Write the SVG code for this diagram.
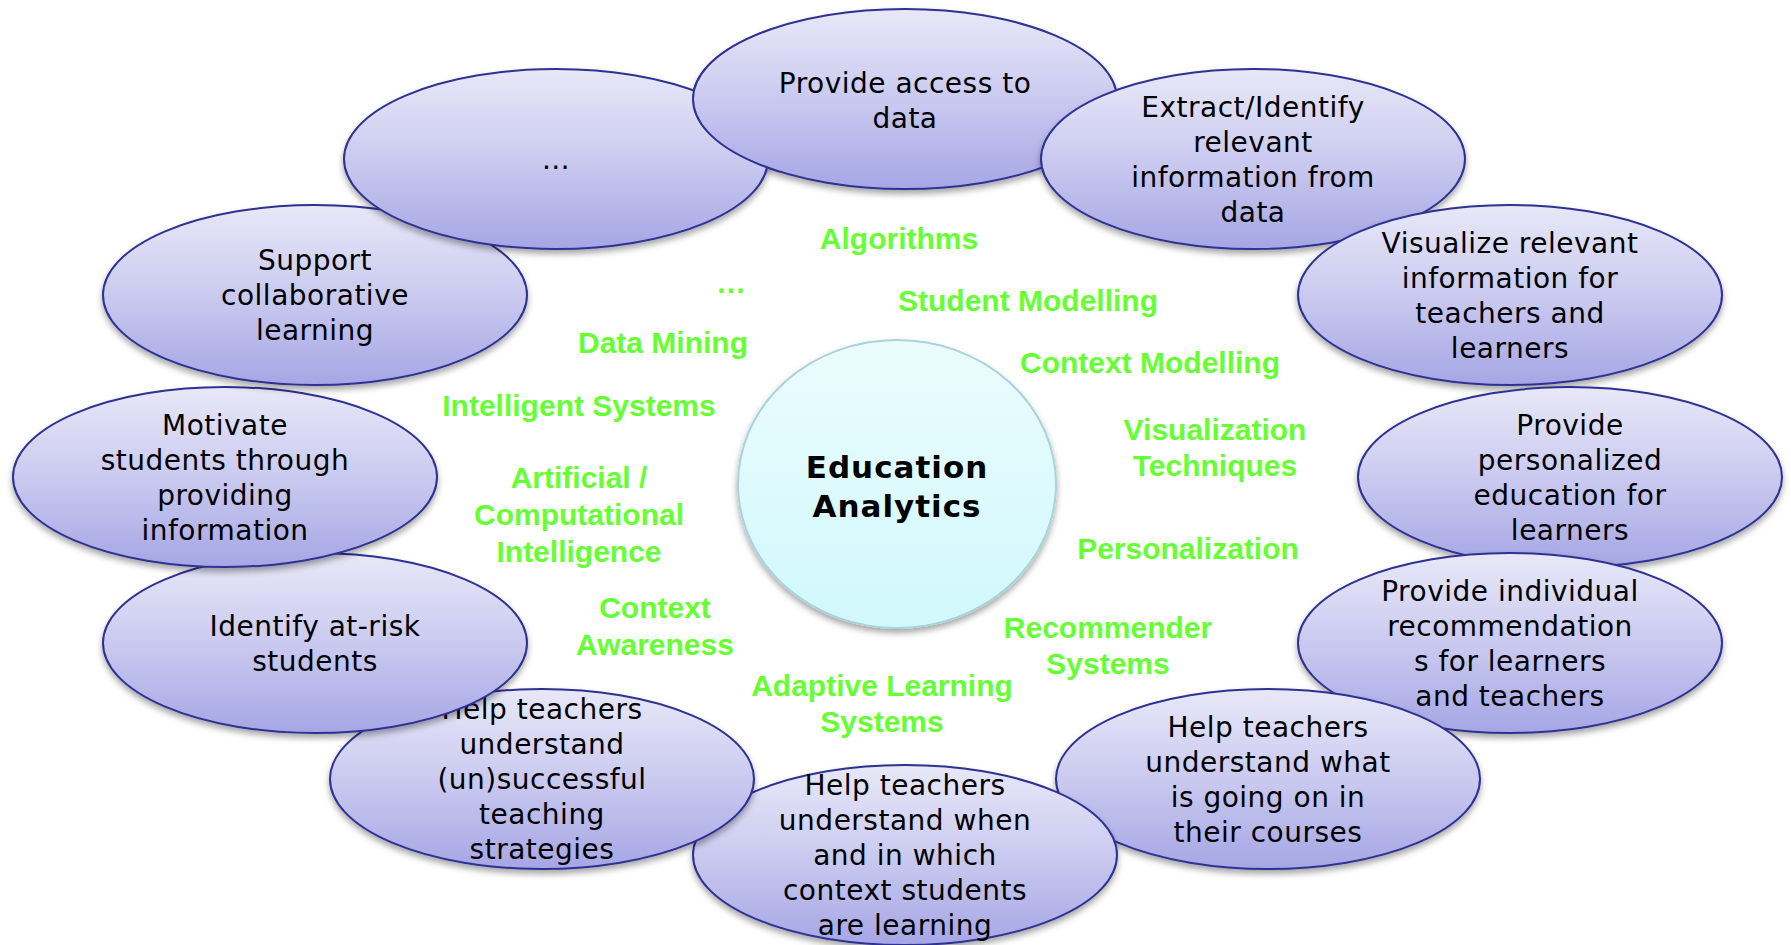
<svg xmlns="http://www.w3.org/2000/svg" xmlns:xlink="http://www.w3.org/1999/xlink" width="1791" height="945" viewBox="0 0 1791 945">
<style>
.el { fill:url(#eg); stroke:#2e3192; stroke-width:2; filter:url(#sh); }
.t { font-family:"DejaVu Sans", Verdana, sans-serif; font-size:28px; fill:#000; text-anchor:middle; letter-spacing:0.5px; }
.g { font-family:"Liberation Sans", Arial, sans-serif; font-weight:bold; font-size:30px; fill:#66ff33; text-anchor:middle; }
.c { font-family:"DejaVu Sans", Verdana, sans-serif; font-weight:bold; font-size:31px; fill:#000; text-anchor:middle; letter-spacing:1px; }
</style>
<defs>
<linearGradient id="eg" x1="0" y1="0" x2="0" y2="1">
<stop offset="0" stop-color="#e8e8f8"/>
<stop offset="0.5" stop-color="#cacaf0"/>
<stop offset="1" stop-color="#a6a6e5"/>
</linearGradient>
<linearGradient id="cg" x1="0" y1="0" x2="0" y2="1">
<stop offset="0" stop-color="#ecfcfd"/>
<stop offset="1" stop-color="#d0f8fc"/>
</linearGradient>
<filter id="sh" x="-10%" y="-10%" width="120%" height="130%">
<feDropShadow dx="0" dy="4" stdDeviation="3" flood-color="#000" flood-opacity="0.35"/>
</filter>
<clipPath id="cp"><rect x="0" y="0" width="771" height="100"/><rect x="0" y="100" width="780" height="200"/></clipPath>
</defs>
<rect width="1791" height="945" fill="#fff"/>

<g id="center">
<ellipse cx="897" cy="484" rx="159" ry="144" fill="url(#cg)" stroke="#a9d3da" stroke-width="2" filter="url(#sh)"/>
<text class="c"><tspan x="897" y="478">Education</tspan><tspan x="897" y="517">Analytics</tspan></text>
</g>

<g id="n1">
<ellipse class="el" cx="905" cy="99" rx="212" ry="90"/>
<text class="t"><tspan x="905" y="93">Provide access to</tspan><tspan x="905" y="128">data</tspan></text>
</g>
<g id="n2">
<ellipse class="el" cx="1253" cy="159" rx="212" ry="90"/>
<text class="t"><tspan x="1253" y="117">Extract/Identify</tspan><tspan x="1253" y="152">relevant</tspan><tspan x="1253" y="187">information from</tspan><tspan x="1253" y="222">data</tspan></text>
</g>
<g id="n3">
<ellipse class="el" cx="1510" cy="295" rx="212" ry="90"/>
<text class="t"><tspan x="1510" y="253">Visualize relevant</tspan><tspan x="1510" y="288">information for</tspan><tspan x="1510" y="323">teachers and</tspan><tspan x="1510" y="358">learners</tspan></text>
</g>
<g id="n4">
<ellipse class="el" cx="1570" cy="477" rx="212" ry="90"/>
<text class="t"><tspan x="1570" y="435">Provide</tspan><tspan x="1570" y="470">personalized</tspan><tspan x="1570" y="505">education for</tspan><tspan x="1570" y="540">learners</tspan></text>
</g>
<g id="n5">
<ellipse class="el" cx="1510" cy="643" rx="212" ry="90"/>
<text class="t"><tspan x="1510" y="601">Provide individual</tspan><tspan x="1510" y="636">recommendation</tspan><tspan x="1510" y="671">s for learners</tspan><tspan x="1510" y="706">and teachers</tspan></text>
</g>
<g id="n6">
<ellipse class="el" cx="1268" cy="779" rx="212" ry="90"/>
<text class="t"><tspan x="1268" y="737">Help teachers</tspan><tspan x="1268" y="772">understand what</tspan><tspan x="1268" y="807">is going on in</tspan><tspan x="1268" y="842">their courses</tspan></text>
</g>
<g id="n7">
<ellipse class="el" cx="905" cy="855" rx="212" ry="90"/>
<text class="t"><tspan x="905" y="795">Help teachers</tspan><tspan x="905" y="830">understand when</tspan><tspan x="905" y="865">and in which</tspan><tspan x="905" y="900">context students</tspan><tspan x="905" y="935">are learning</tspan></text>
</g>
<g id="n8">
<ellipse class="el" cx="542" cy="779" rx="212" ry="90"/>
<text class="t"><tspan x="542" y="719">Help teachers</tspan><tspan x="542" y="754">understand</tspan><tspan x="542" y="789">(un)successful</tspan><tspan x="542" y="824">teaching</tspan><tspan x="542" y="859">strategies</tspan></text>
</g>
<g id="n9">
<ellipse class="el" cx="315" cy="643" rx="212" ry="90"/>
<text class="t"><tspan x="315" y="636">Identify at-risk</tspan><tspan x="315" y="671">students</tspan></text>
</g>
<g id="n10">
<ellipse class="el" cx="225" cy="477" rx="212" ry="90"/>
<text class="t"><tspan x="225" y="435">Motivate</tspan><tspan x="225" y="470">students through</tspan><tspan x="225" y="505">providing</tspan><tspan x="225" y="540">information</tspan></text>
</g>
<g id="n11">
<ellipse class="el" cx="315" cy="295" rx="212" ry="90"/>
<text class="t"><tspan x="315" y="270">Support</tspan><tspan x="315" y="305">collaborative</tspan><tspan x="315" y="340">learning</tspan></text>
</g>
<g id="n12">
<ellipse class="el" cx="556" cy="159" rx="212" ry="90"/>
<text class="t" x="556" y="169">…</text>
</g>
<g id="n1-overlap">
<ellipse class="el" cx="905" cy="99" rx="212" ry="90" clip-path="url(#cp)" style="filter:none"/>
</g>

<g id="connectors"></g>

<g id="labels">
<text class="g" x="899" y="249">Algorithms</text>
<text class="g" x="731" y="293">…</text>
<text class="g" x="1028" y="311">Student Modelling</text>
<text class="g" x="663" y="353">Data Mining</text>
<text class="g" x="1150" y="373">Context Modelling</text>
<text class="g" x="579" y="416">Intelligent Systems</text>
<text class="g"><tspan x="1215" y="440">Visualization</tspan><tspan x="1215" y="476">Techniques</tspan></text>
<text class="g"><tspan x="579" y="488">Artificial /</tspan><tspan x="579" y="525">Computational</tspan><tspan x="579" y="562">Intelligence</tspan></text>
<text class="g" x="1188" y="559">Personalization</text>
<text class="g"><tspan x="655" y="618">Context</tspan><tspan x="655" y="655">Awareness</tspan></text>
<text class="g"><tspan x="1108" y="638">Recommender</tspan><tspan x="1108" y="674">Systems</tspan></text>
<text class="g"><tspan x="882" y="696">Adaptive Learning</tspan><tspan x="882" y="732">Systems</tspan></text>
</g>
</svg>
